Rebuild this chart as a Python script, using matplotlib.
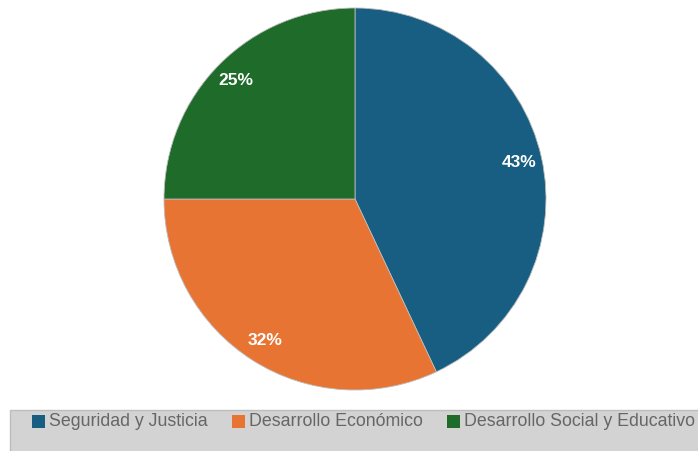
import matplotlib.pyplot as plt
from matplotlib.patches import Rectangle

categories = ["Seguridad y Justicia", "Desarrollo Económico", "Desarrollo Social y Educativo"]
values = [43, 32, 25]
colors = ["#175e82", "#e87434", "#1e6b2a"]
legend_x = [32, 232, 447]

W, H = 698, 451
fig = plt.figure(figsize=(W / 100, H / 100), dpi=100)
plt.rcParams['font.family'] = ['Liberation Sans', 'DejaVu Sans']

ax = fig.add_axes([164 / W, (H - 390) / H, 382 / W, 382 / H])
wedges, texts, autotexts = ax.pie(values, colors=colors, startangle=90, counterclock=False,
	autopct="%d%%", pctdistance=0.88, radius=1,
	wedgeprops=dict(linewidth=0.6, edgecolor="#bbbbbb"),
	textprops=dict(color="white", fontweight="bold", fontsize=12.5))
ax.set_xlim(-1, 1)
ax.set_ylim(-1, 1)
ax.set_aspect("equal")
ax.axis("off")

# legend box
fig.patches.append(Rectangle((10 / W, -0.1), 1, (H - 410) / H + 0.1, transform=fig.transFigure,
	facecolor="#d3d3d3", edgecolor="#bdbdbd", linewidth=1))
for name, c, x in zip(categories, colors, legend_x):
	fig.patches.append(Rectangle((x / W, (H - 428) / H), 13 / W, 13 / H, transform=fig.transFigure,
		facecolor=c, edgecolor="none"))
	fig.text((x + 17) / W, (H - 421) / H, name, fontsize=12.8, color="#666666", va="center", ha="left")

plt.savefig("out.png", dpi=100)
